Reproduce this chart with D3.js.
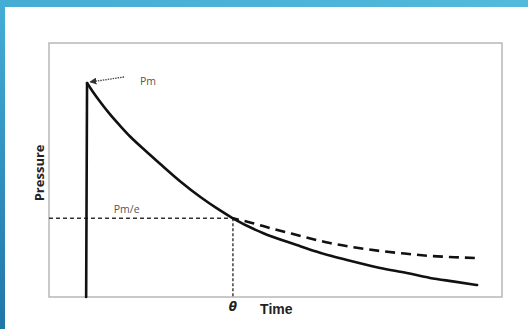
<!DOCTYPE html>
<html>
<head>
<meta charset="utf-8">
<script src="https://cdn.jsdelivr.net/npm/d3@7"></script>
<style>
  html, body { margin: 0; padding: 0; background: #fff; }
  svg { display: block; }
</style>
</head>
<body>
<svg id="chart" width="528" height="329"></svg>
<script>
// Pressure decay after a pulse: rise at onset, peak Pm, then decay.
// Time in arbitrary units, pressure as % of the peak Pm.
const riseTime = [8.2, 8.4];
const risePressure = [0, 100];

const decayTime     = [8.4, 9.6, 11.2, 13.3, 15.7, 17.9, 21.6, 24.5, 29.0, 33.5, 37.0, 40.6, 47.2, 54.7, 60.0, 65.8, 73.1, 79.0, 84.1, 89.5, 94.5];
const decayPressure = [100, 96.2, 91.5, 85.8, 80.0, 75.0, 67.8, 62.3, 54.0, 46.6, 41.5, 36.8, 29.9, 24.3, 20.6, 17.3, 13.6, 11.2, 8.9, 7.2, 5.6];

const slowTime     = [40.6, 44.8, 49.5, 54.7, 62.0, 68.0, 73.1, 79.0, 84.1, 89.5, 94.0];
const slowPressure = [36.8, 34.6, 31.8, 29.0, 25.2, 23.0, 21.5, 20.2, 19.2, 18.6, 18.2];

const peakLabel = "Pm";
const thresholdLabel = "Pm/e";
const thetaLabel = "θ";
const thetaTime = 40.6;
const thresholdPressure = 36.8;
const xTitle = "Time";
const yTitle = "Pressure";

const svg = d3.select("#chart");
const W = 528, H = 329;

// Slide-style border bands
const defs = svg.append("defs");
const gTop = defs.append("linearGradient").attr("id", "bandTop").attr("x1", 0).attr("x2", 1).attr("y1", 0).attr("y2", 0);
gTop.append("stop").attr("offset", 0).attr("stop-color", "#45acd4");
gTop.append("stop").attr("offset", 1).attr("stop-color", "#52badc");
const gLeft = defs.append("linearGradient").attr("id", "bandLeft").attr("x1", 0).attr("x2", 0).attr("y1", 0).attr("y2", 1);
gLeft.append("stop").attr("offset", 0).attr("stop-color", "#45aed6");
gLeft.append("stop").attr("offset", 1).attr("stop-color", "#1f76a8");

svg.append("rect").attr("x", 0).attr("y", 0).attr("width", W).attr("height", 7).attr("fill", "url(#bandTop)");
svg.append("rect").attr("x", 0).attr("y", 0).attr("width", 5).attr("height", H).attr("fill", "url(#bandLeft)");

defs.append("marker").attr("id", "arrowHead")
  .attr("viewBox", "0 0 10 10").attr("refX", 9).attr("refY", 5)
  .attr("markerWidth", 7).attr("markerHeight", 7).attr("orient", "auto")
  .attr("markerUnits", "userSpaceOnUse")
  .append("path").attr("d", "M0,0 L10,5 L0,10 Z").attr("fill", "#333");

// Plot area
const plot = { left: 49, top: 43, right: 502, bottom: 297 };
const x = d3.scaleLinear().domain([0, 100]).range([plot.left, plot.right]);
const y = d3.scaleLinear().domain([0, 118.7]).range([plot.bottom, plot.top]);

svg.append("rect")
  .attr("x", plot.left).attr("y", plot.top)
  .attr("width", plot.right - plot.left).attr("height", plot.bottom - plot.top)
  .attr("fill", "none").attr("stroke", "#b3b3b3").attr("stroke-width", 1.4);

const line = d3.line().x(d => x(d[0])).y(d => y(d[1])).curve(d3.curveMonotoneX);

// Threshold guides
svg.append("line")
  .attr("x1", x(0)).attr("x2", x(thetaTime))
  .attr("y1", y(thresholdPressure)).attr("y2", y(thresholdPressure))
  .attr("stroke", "#333").attr("stroke-width", 1.4).attr("stroke-dasharray", "4,3");
svg.append("line")
  .attr("x1", x(thetaTime)).attr("x2", x(thetaTime))
  .attr("y1", y(thresholdPressure)).attr("y2", y(0))
  .attr("stroke", "#333").attr("stroke-width", 1.4).attr("stroke-dasharray", "3,2");

// Slow decay (dashed)
svg.append("path")
  .attr("d", line(d3.zip(slowTime, slowPressure)))
  .attr("fill", "none").attr("stroke", "#111").attr("stroke-width", 2.6)
  .attr("stroke-dasharray", "10,6").attr("stroke-dashoffset", -12);

// Rise and decay (solid)
svg.append("path")
  .attr("d", d3.line().x(d => x(d[0])).y(d => y(d[1]))(d3.zip(riseTime, risePressure)))
  .attr("fill", "none").attr("stroke", "#111").attr("stroke-width", 2.6)
  .attr("stroke-linecap", "round");
svg.append("path")
  .attr("d", line(d3.zip(decayTime, decayPressure)))
  .attr("fill", "none").attr("stroke", "#111").attr("stroke-width", 2.6)
  .attr("stroke-linejoin", "round").attr("stroke-linecap", "round");

// Peak annotation
const peakT = riseTime[1], peakP = risePressure[1];
svg.append("line")
  .attr("x1", x(peakT) + 37).attr("y1", y(peakP) - 6)
  .attr("x2", x(peakT) + 3).attr("y2", y(peakP) - 1)
  .attr("stroke", "#444").attr("stroke-width", 1.3).attr("stroke-dasharray", "1.5,1")
  .attr("marker-end", "url(#arrowHead)");
svg.append("text")
  .attr("x", x(peakT) + 53).attr("y", y(peakP) + 2)
  .attr("font-family", "'Open Sans', sans-serif").attr("font-size", 10.5).attr("fill", "#555")
  .text(peakLabel);

svg.append("text")
  .attr("x", x(14.3)).attr("y", y(thresholdPressure) - 5)
  .attr("font-family", "'Open Sans', sans-serif").attr("font-size", 10.5).attr("fill", "#555")
  .text(thresholdLabel);

svg.append("text")
  .attr("x", x(thetaTime)).attr("y", plot.bottom + 14)
  .attr("text-anchor", "middle")
  .attr("font-family", "'DejaVu Sans', sans-serif").attr("font-style", "italic").attr("font-weight", "bold")
  .attr("font-size", 12).attr("fill", "#222")
  .text(thetaLabel);

svg.append("text")
  .attr("x", x(46.6)).attr("y", plot.bottom + 17)
  .attr("font-family", "'Liberation Sans', Arial, sans-serif").attr("font-weight", "bold")
  .attr("font-size", 14).attr("fill", "#222")
  .text(xTitle);

svg.append("text")
  .attr("transform", `translate(${plot.left - 5},${y(58)}) rotate(-90)`)
  .attr("text-anchor", "middle")
  .attr("font-family", "'Open Sans', sans-serif").attr("font-weight", "bold")
  .attr("font-size", 13).attr("fill", "#222")
  .text(yTitle);
</script>
</body>
</html>
